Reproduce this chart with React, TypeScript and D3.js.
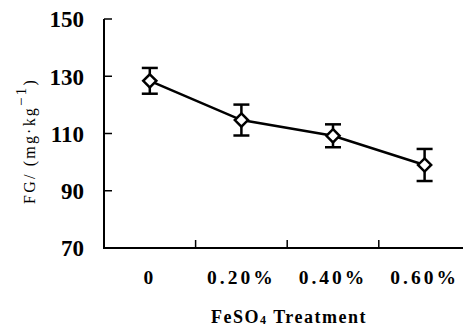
import React from 'react';
import * as d3 from 'd3';

const categories = ['0', '0.20%', '0.40%', '0.60%'];
const means = [128.4, 114.7, 109.2, 99.0];
const errors = [4.5, 5.4, 4.0, 5.6];
const yTicks = [70, 90, 110, 130, 150];

const App = () => {
    const width = 465;
    const height = 326;
    const left = 104; // y axis position
    const bottom = 248; // x axis position

    const x = d3.scaleBand().domain(categories).range([left, left + 4 * 91.6]).padding(0);
    const y = d3.scaleLinear().domain([70, 150]).range([bottom, 19]);

    const points: [number, number][] = categories.map((c, i) => [x(c)! + x.bandwidth() / 2, y(means[i])]);
    const line = d3.line()(points) || '';
    const diamond = d3.symbol().type(d3.symbolDiamond2).size(110)() || '';

    const serif = '"Liberation Serif", "DejaVu Serif", serif';

    return (
        <svg width={width} height={height} style={{ position: 'absolute', left: 0, top: 0, background: '#fff' }}>
            {/* axes */}
            <line x1={left} y1={y(150)} x2={left} y2={bottom + 1} stroke="#000" strokeWidth={2} />
            <line x1={left - 1} y1={bottom} x2={463} y2={bottom} stroke="#000" strokeWidth={2} />
            {yTicks.slice(1).map(t => (
                <line key={t} x1={left} x2={left + 8} y1={y(t)} y2={y(t)} stroke="#000" strokeWidth={1.5} />
            ))}
            {categories.slice(1).map(c => (
                <line key={c} x1={x(c)!} x2={x(c)!} y1={bottom} y2={bottom - 8} stroke="#000" strokeWidth={1.5} />
            ))}
            {yTicks.map(t => (
                <text key={t} x={84} y={y(t)} dy="0.36em" textAnchor="end"
                    fontFamily={serif} fontWeight="bold" fontSize={23}>{t}</text>
            ))}
            {categories.map(c => (
                <text key={c} x={x(c)! + x.bandwidth() / 2} y={284} textAnchor="middle"
                    fontFamily={serif} fontWeight="bold" fontSize={19.5} letterSpacing={3}>{c}</text>
            ))}
            <text x={289} y={323} textAnchor="middle" fontFamily={serif} fontWeight="bold" fontSize={18} letterSpacing={1.5}>
                FeSO<tspan fontSize={12} dy={1}>4</tspan><tspan dy={-1}> Treatment</tspan>
            </text>
            <text transform="translate(35,141) rotate(-90)" textAnchor="middle" fontFamily={serif} fontSize={16} letterSpacing={2.2}>
                FG/ (mg·kg<tspan fontSize={15} dy={-9}>−1</tspan><tspan dy={9}>)</tspan>
            </text>

            {/* series */}
            <path d={line} fill="none" stroke="#000" strokeWidth={2.5} />
            {points.map(([px, py], i) => {
                const top = y(means[i] + errors[i]);
                const bot = y(means[i] - errors[i]);
                return (
                    <g key={i}>
                        <line x1={px} x2={px} y1={top} y2={bot} stroke="#000" strokeWidth={2.5} />
                        <line x1={px - 8} x2={px + 8} y1={top} y2={top} stroke="#000" strokeWidth={2.5} />
                        <line x1={px - 8} x2={px + 8} y1={bot} y2={bot} stroke="#000" strokeWidth={2.5} />
                        <path d={diamond} transform={`translate(${px},${py})`} fill="#fff" stroke="#000" strokeWidth={2.5} />
                    </g>
                );
            })}
        </svg>
    );
};

export default App;
